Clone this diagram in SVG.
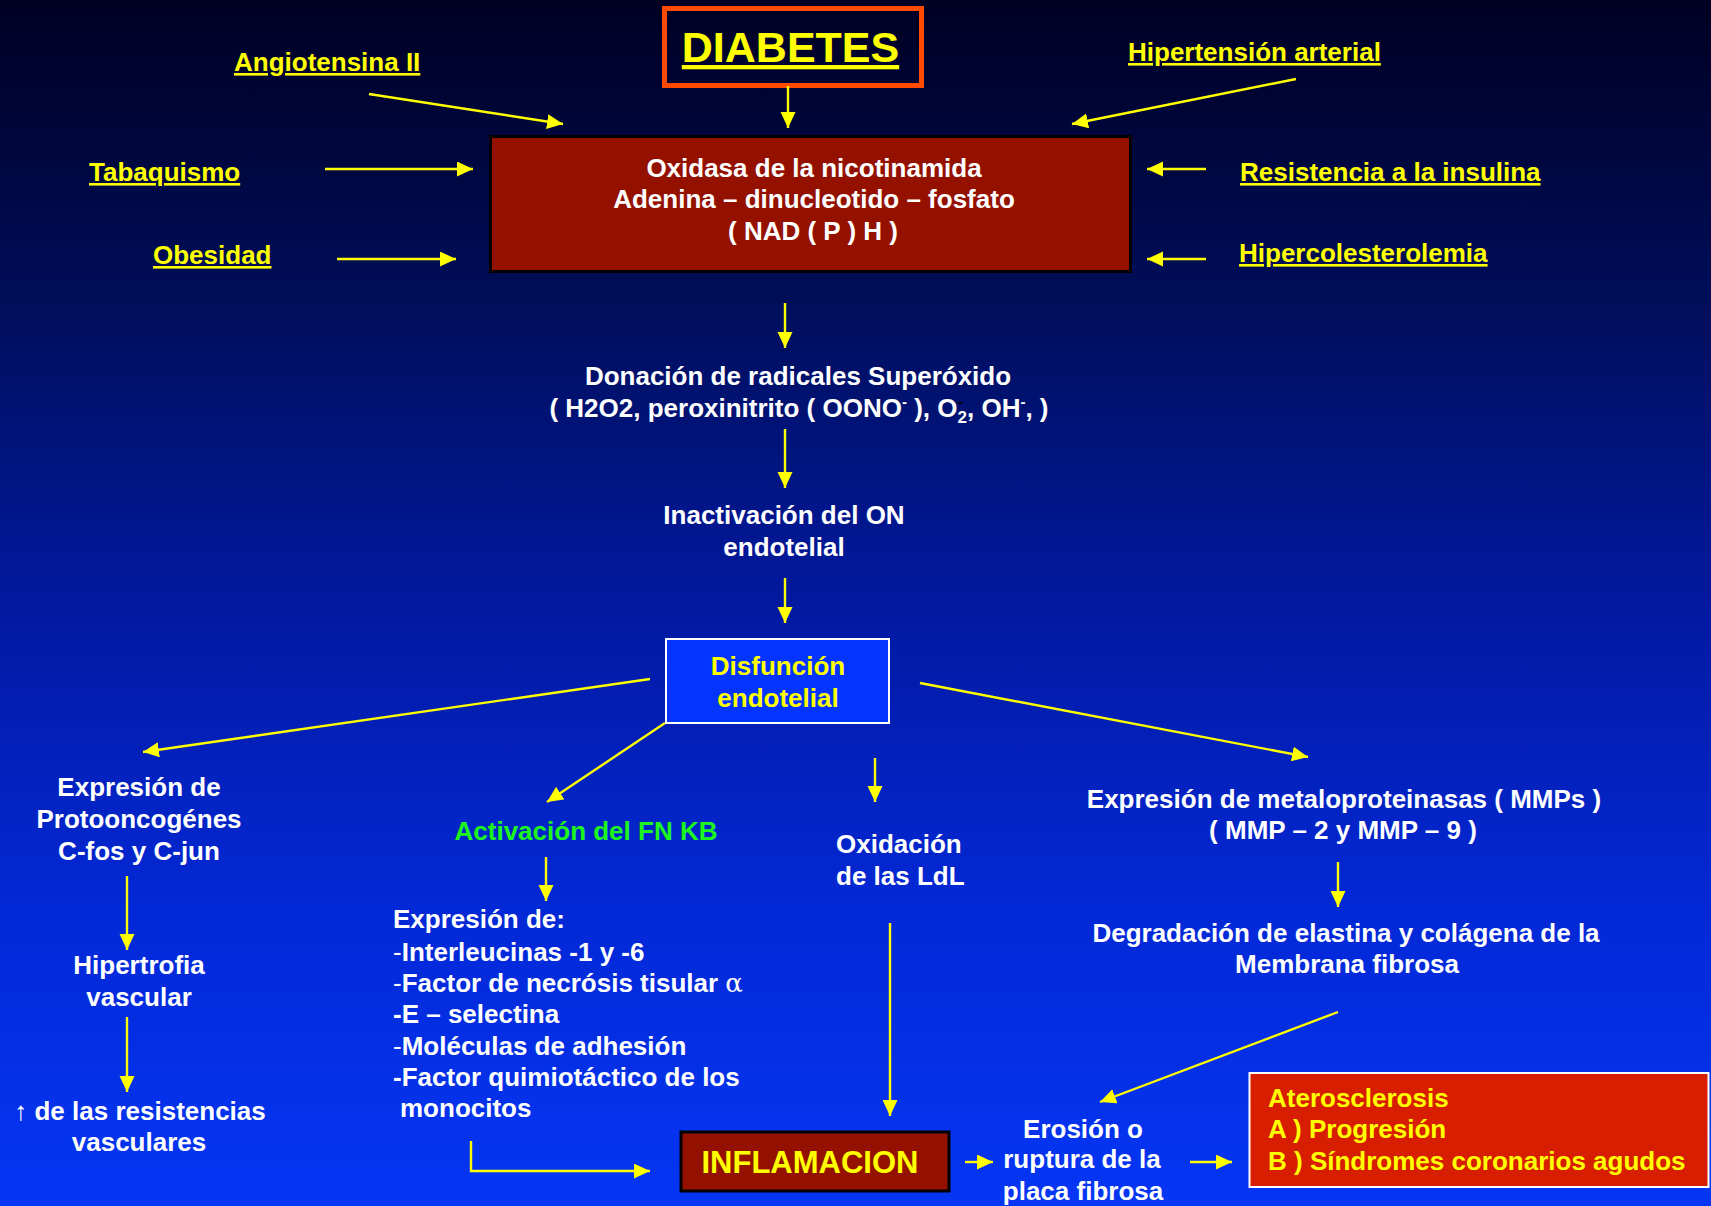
<svg xmlns="http://www.w3.org/2000/svg" width="1711" height="1206" viewBox="0 0 1711 1206">
<defs>
<linearGradient id="bg" x1="0" y1="0" x2="0" y2="1">
<stop offset="0" stop-color="#000022"/>
<stop offset="0.25" stop-color="#000E5A"/>
<stop offset="0.5" stop-color="#0219A0"/>
<stop offset="0.75" stop-color="#0328D5"/>
<stop offset="1" stop-color="#0536F5"/>
</linearGradient>
<marker id="ah" markerUnits="userSpaceOnUse" markerWidth="18" markerHeight="18" refX="16" refY="7.5" orient="auto" viewBox="0 0 18 18"><path d="M0,0 L16,7.5 L0,15 z" fill="#FFFF00"/></marker>
<style>
.t{font-family:"Liberation Sans",Arial,Helvetica,sans-serif;font-weight:bold;font-size:26px}
.w{fill:#FFFFFF}.y{fill:#FFFF00}.g{fill:#1EF51E}
.u{text-decoration:underline;text-decoration-thickness:3px}
.c{text-anchor:middle}
.n{font-weight:normal}
.sym{font-family:"DejaVu Serif","Liberation Serif",serif;font-weight:normal}
#connectors line,#connectors path{stroke:#FFFF00;stroke-width:2.4;fill:none;marker-end:url(#ah)}
</style>
</defs>
<rect x="0" y="0" width="1711" height="1206" fill="url(#bg)"/>

<g id="diabetes">
<rect x="664.5" y="8.5" width="257" height="77" fill="none" stroke="#FF4A00" stroke-width="5"/>
<text class="t y u c" x="790.5" y="62" style="font-size:43px">DIABETES</text>
</g>
<g id="angiotensina"><text class="t y u" x="234" y="71">Angiotensina II</text></g>
<g id="tabaquismo"><text class="t y u" x="89" y="181">Tabaquismo</text></g>
<g id="obesidad"><text class="t y u" x="153" y="264">Obesidad</text></g>
<g id="hipertension"><text class="t y u" x="1128" y="61">Hipertensión arterial</text></g>
<g id="resistencia"><text class="t y u" x="1240" y="181">Resistencia a la insulina</text></g>
<g id="hipercolesterolemia"><text class="t y u" x="1239" y="262">Hipercolesterolemia</text></g>

<g id="nadph">
<rect x="490.5" y="136.5" width="640" height="135" fill="#941100" stroke="#000000" stroke-width="3"/>
<text class="t w c" x="814" y="177">Oxidasa de la nicotinamida</text>
<text class="t w c" x="814" y="208">Adenina – dinucleotido – fosfato</text>
<text class="t w c" x="813" y="240">( NAD ( P ) H )</text>
</g>

<g id="superoxido">
<text class="t w c" x="798" y="385">Donación de radicales Superóxido</text>
<text class="t w c" x="799" y="417">( H2O2, peroxinitrito ( OONO<tspan dy="-10" style="font-size:15px">-</tspan><tspan dy="10"> ), O</tspan><tspan dy="6" style="font-size:17px">2</tspan><tspan dx="-9" dy="-16" style="font-size:15px;fill:#000">-</tspan><tspan dx="4" dy="10">, OH</tspan><tspan dy="-10" style="font-size:15px">-</tspan><tspan dy="10">, )</tspan></text>
</g>

<g id="inactivacion">
<text class="t w c" x="784" y="524">Inactivación del ON</text>
<text class="t w c" x="784" y="556">endotelial</text>
</g>

<g id="disfuncion">
<rect x="666" y="639" width="223" height="84" fill="#0434FF" stroke="#FFFFFF" stroke-width="2"/>
<text class="t y c" x="778" y="675">Disfunción</text>
<text class="t y c" x="778" y="707">endotelial</text>
</g>

<g id="protooncogenes">
<text class="t w c" x="139" y="796">Expresión de</text>
<text class="t w c" x="139" y="828">Protooncogénes</text>
<text class="t w c" x="139" y="860">C-fos y C-jun</text>
</g>
<g id="hipertrofia">
<text class="t w c" x="139" y="974">Hipertrofia</text>
<text class="t w c" x="139" y="1006">vascular</text>
</g>
<g id="resistencias">
<text class="t w c" x="140" y="1120"><tspan class="n">↑</tspan> de las resistencias</text>
<text class="t w c" x="139" y="1151">vasculares</text>
</g>

<g id="fnkb"><text class="t g c" x="586" y="840">Activación del FN KB</text></g>

<g id="expresion">
<text class="t w" x="393" y="928">Expresión de:</text>
<text class="t w" x="393" y="961"><tspan class="n">-</tspan>Interleucinas -1 y -6</text>
<text class="t w" x="393" y="992"><tspan class="n">-</tspan>Factor de necrósis tisular <tspan class="sym">α</tspan></text>
<text class="t w" x="393" y="1023">-E – selectina</text>
<text class="t w" x="393" y="1055"><tspan class="n">-</tspan>Moléculas de adhesión</text>
<text class="t w" x="393" y="1086">-Factor quimiotáctico de los</text>
<text class="t w" x="400" y="1117">monocitos</text>
</g>

<g id="oxidacion">
<text class="t w" x="836" y="853">Oxidación</text>
<text class="t w" x="836" y="885">de las LdL</text>
</g>

<g id="mmps">
<text class="t w c" x="1344" y="808">Expresión de metaloproteinasas ( MMPs )</text>
<text class="t w c" x="1343" y="839">( MMP – 2 y MMP – 9 )</text>
</g>
<g id="degradacion">
<text class="t w c" x="1346" y="942">Degradación de elastina y colágena de la</text>
<text class="t w c" x="1347" y="973">Membrana fibrosa</text>
</g>

<g id="inflamacion">
<rect x="681" y="1132" width="268" height="59" fill="#941100" stroke="#000000" stroke-width="3"/>
<text class="t y c" x="810" y="1173" style="font-size:31px">INFLAMACION</text>
</g>

<g id="erosion">
<text class="t w c" x="1083" y="1138">Erosión o</text>
<text class="t w c" x="1082" y="1168">ruptura de la</text>
<text class="t w c" x="1083" y="1200">placa fibrosa</text>
</g>

<g id="aterosclerosis">
<rect x="1249.5" y="1073" width="459" height="114" fill="#D81E00" stroke="#FFFFFF" stroke-width="2"/>
<text class="t y" x="1268" y="1107">Aterosclerosis</text>
<text class="t y" x="1268" y="1138">A ) Progresión</text>
<text class="t y" x="1268" y="1170">B ) Síndromes coronarios agudos</text>
</g>

<g id="connectors">
<line x1="788" y1="86" x2="788" y2="128"/>
<line x1="369" y1="94" x2="563" y2="124"/>
<line x1="325" y1="169" x2="473" y2="169"/>
<line x1="337" y1="259" x2="456" y2="259"/>
<line x1="1296" y1="79" x2="1072" y2="124"/>
<line x1="1206" y1="169" x2="1147" y2="169"/>
<line x1="1206" y1="259" x2="1147" y2="259"/>
<line x1="785" y1="303" x2="785" y2="348"/>
<line x1="785" y1="429" x2="785" y2="488"/>
<line x1="785" y1="578" x2="785" y2="623"/>
<line x1="650" y1="679" x2="143" y2="752"/>
<line x1="665" y1="723" x2="547" y2="802"/>
<line x1="875" y1="758" x2="875" y2="802"/>
<line x1="920" y1="683" x2="1308" y2="757"/>
<line x1="127" y1="876" x2="127" y2="950"/>
<line x1="127" y1="1017" x2="127" y2="1092"/>
<line x1="546" y1="857" x2="546" y2="901"/>
<path d="M471,1141 V1171 H650"/>
<line x1="890" y1="923" x2="890" y2="1116"/>
<line x1="1338" y1="862" x2="1338" y2="907"/>
<line x1="1338" y1="1012" x2="1100" y2="1102"/>
<line x1="965" y1="1162" x2="993" y2="1162"/>
<line x1="1190" y1="1162" x2="1232" y2="1162"/>
</g>
</svg>
